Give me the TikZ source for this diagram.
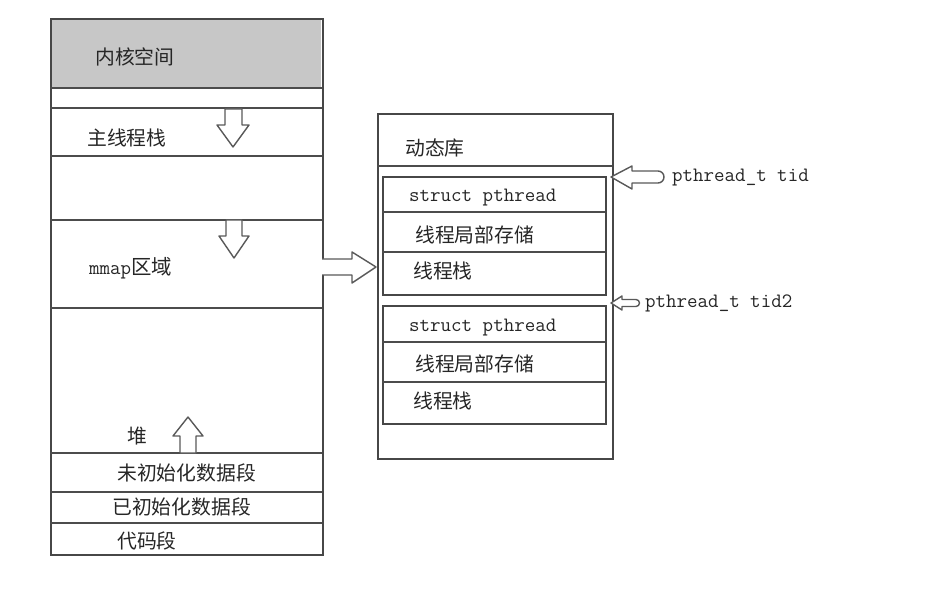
\documentclass[tikz,border=0pt]{standalone}
\usepackage{fontspec}
\newfontfamily\cjk{Noto Sans CJK SC}
\begin{document}
\begin{tikzpicture}[x=1pt,y=-1pt,
  frame/.style={draw=black!72,line width=1.6pt},
  divline/.style={draw=black!70,line width=1.5pt},
  zh/.style={font=\cjk\fontsize{19.8}{20}\selectfont,text=black!85,anchor=west,inner sep=0pt},
  mono/.style={font=\ttfamily\fontsize{20.4}{21}\selectfont,text=black!85,anchor=west,inner sep=0pt},
  blockarrow/.style={draw=black!65,line width=1.4pt,fill=white,line join=round}]
\useasboundingbox (0,0) rectangle (945,593);
% ---------- left memory layout ----------
\fill[black!22] (50,19) rectangle (321,87);
\node[frame,minimum width=272pt,minimum height=536pt,anchor=north west,inner sep=0pt] (mem) at (50,18) {};
\foreach \yy in {88,108,156,220,308,453,492,523}
  \draw[divline] (50,\yy) -- (322,\yy);
\node[zh] (kernel) at (95,57) {内核空间};
\node[zh] (mainstack) at (87,138) {主线程栈};
\node[mono] (mmap) at (89,268) {mmap{\cjk 区域}};
\node[zh] (heap) at (127,436) {堆};
\node[zh] (bss) at (117,473) {未初始化数据段};
\node[zh] (data) at (112,507) {已初始化数据段};
\node[zh] (text) at (117,541) {代码段};
% growth arrows
\draw[blockarrow] (225,109) -- (242,109) -- (242,125) -- (249,125) -- (233,147) -- (217,125) -- (225,125) -- cycle;
\draw[blockarrow] (226,220) -- (242,220) -- (242,236) -- (249,236) -- (234,258) -- (219,236) -- (226,236) -- cycle;
\draw[blockarrow] (180,453) -- (196,453) -- (196,436) -- (203,436) -- (188,417) -- (173,436) -- (180,436) -- cycle;
% ---------- right: dynamic library ----------
\node[frame,minimum width=235pt,minimum height=345pt,anchor=north west,inner sep=0pt] (lib) at (377,113) {};
\draw[divline] (377,166) -- (612,166);
\node[zh] (libname) at (405,148) {动态库};
\node[frame,minimum width=223pt,minimum height=118pt,anchor=north west,inner sep=0pt] (t1) at (382,176) {};
\draw[divline] (382,212) -- (605,212);
\draw[divline] (382,252) -- (605,252);
\node[mono] (sp1) at (409,198) {struct pthread};
\node[zh] (tls1) at (415,235) {线程局部存储};
\node[zh] (st1) at (413,271) {线程栈};
\node[frame,minimum width=223pt,minimum height=118pt,anchor=north west,inner sep=0pt] (t2) at (382,305) {};
\draw[divline] (382,342) -- (605,342);
\draw[divline] (382,382) -- (605,382);
\node[mono] (sp2) at (409,328) {struct pthread};
\node[zh] (tls2) at (415,364) {线程局部存储};
\node[zh] (st2) at (413,401) {线程栈};
% mmap -> library arrow
\draw[blockarrow] (322,259) -- (352,259) -- (352,252) -- (376,267) -- (352,283) -- (352,275) -- (322,275);
% tid pointers
\node[mono] (tid) at (672,178) {pthread\_t tid};
\node[mono] (tid2) at (645,303) {pthread\_t tid2};
\draw[blockarrow] (611,177) -- (632,166) -- (632,171) -- (658,171) arc[start angle=90,end angle=-90,radius=6pt] -- (632,183) -- (632,189) -- cycle;
\draw[blockarrow] (611,303) -- (622,296) -- (622,299.5) -- (636,299.5) arc[start angle=90,end angle=-90,radius=3.5pt] -- (622,306.5) -- (622,310) -- cycle;
\end{tikzpicture}
\end{document}
